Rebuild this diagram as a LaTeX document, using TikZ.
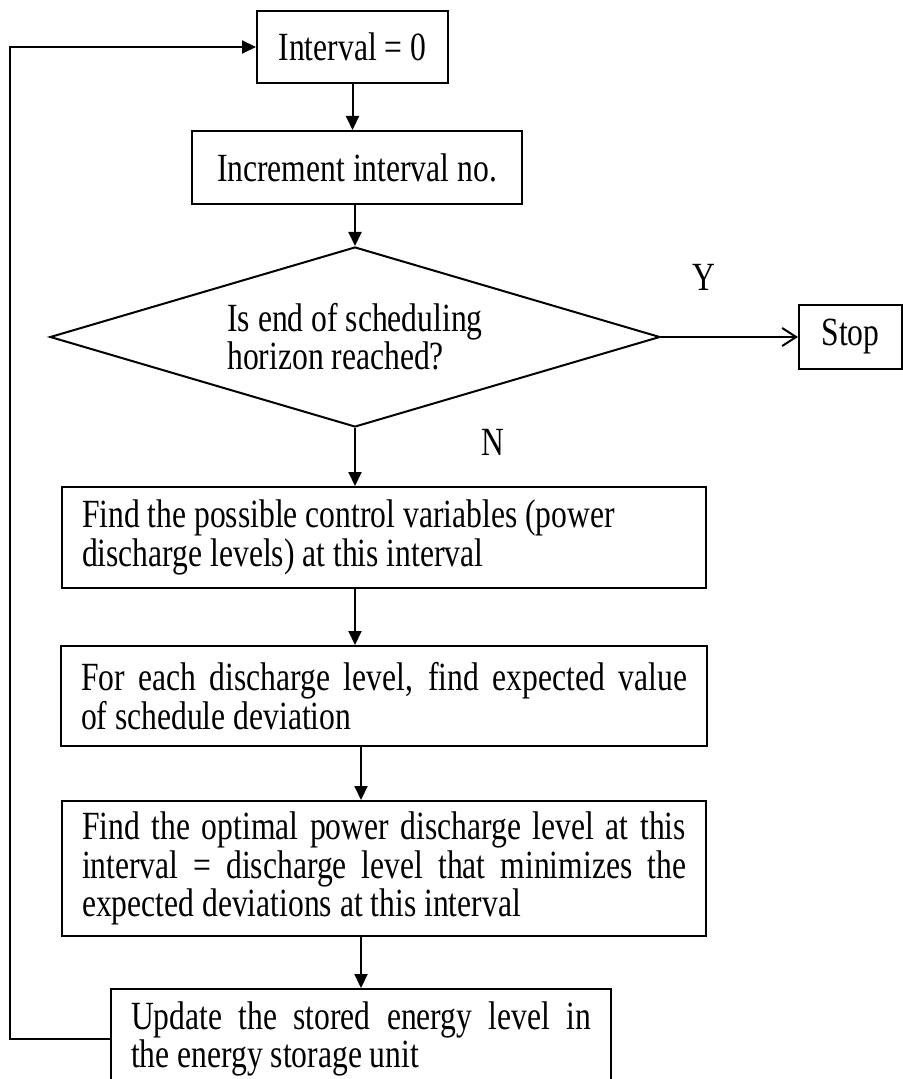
\documentclass[tikz,border=0pt]{standalone}
\usepackage{fontspec}
\setmainfont[FakeStretch=0.79]{Liberation Serif}
\usetikzlibrary{positioning, shapes.geometric, arrows.meta}
\setlength{\lineskiplimit}{-20pt}
\newcommand{\boxfont}{\fontsize{20}{17.5}\selectfont}

\begin{document}
\begin{tikzpicture}[
    node distance=25pt,
    line width=1pt,
    every node/.style={font=\boxfont},
    stepbox/.style={draw, rectangle, inner xsep=10pt, inner ysep=0pt},
    decision/.style={draw, diamond, aspect=3.4, inner sep=0pt, align=left},
    lbl/.style={inner sep=0pt},
    arrow/.style={-{Triangle[length=7pt,width=6.5pt]}},
    yesarrow/.style={-{Straight Barb[length=7pt,width=9pt]}}
]
\useasboundingbox (0,0) rectangle (451pt,-539.5pt);

\node[stepbox, minimum width=95.5pt, minimum height=36pt] (start) at (176.25pt,-23.5pt) {Interval = 0};
\node[stepbox, minimum width=165pt, minimum height=36.5pt, below=23pt of start, xshift=2.25pt] (inc) {Increment interval no.};
\node[decision, minimum width=305pt, minimum height=90pt, below=20.5pt of inc, xshift=-1pt] (dec) {Is end of scheduling\\[1.5pt]horizon reached?};
\node[stepbox, minimum width=51.5pt, minimum height=32pt, right=68.5pt of dec] (stop) {Stop};
\node[lbl] (yes) at ([shift={(21.5pt,30pt)}]dec.east) {Y};
\node[lbl] (no) at ([shift={(69pt,-7pt)}]dec.south) {N};

\node[stepbox, text width=302pt, align=flush left, minimum height=50.5pt, below=29pt of dec, xshift=14.5pt] (poss) {Find the possible control variables (power discharge levels) at this interval};
\node[stepbox, text width=303pt, align=justify, minimum height=50pt, below=28pt of poss] (each) {For each discharge level, find expected value\linebreak of schedule deviation};
\node[stepbox, text width=302pt, align=justify, minimum height=67.5pt, below=26.5pt of each] (opt) {Find the optimal power discharge level at this\linebreak interval = discharge level that minimizes the\linebreak expected deviations at this interval};
\node[stepbox, text width=230pt, align=justify, minimum height=50pt, below=25.5pt of opt, xshift=-11.5pt] (upd) {Update the stored energy level in\linebreak the energy storage unit};

% main flow
\draw[arrow] (start.south) -- (start.south |- inc.north);
\draw[arrow] (dec.north |- inc.south) -- (dec.north);
\draw[yesarrow] (dec.east) -- (stop.west);
\draw[arrow] (dec.south) -- (dec.south |- poss.north);
\draw[arrow] (dec.south |- poss.south) -- (dec.south |- each.north);
\draw[arrow] (upd.north |- each.south) -- (upd.north |- opt.north);
\draw[arrow] (upd.north |- opt.south) -- (upd.north);

% back to the start
\draw[arrow] (upd.west) -- ++(-50pt,0) |- (start.west);
\end{tikzpicture}
\end{document}
